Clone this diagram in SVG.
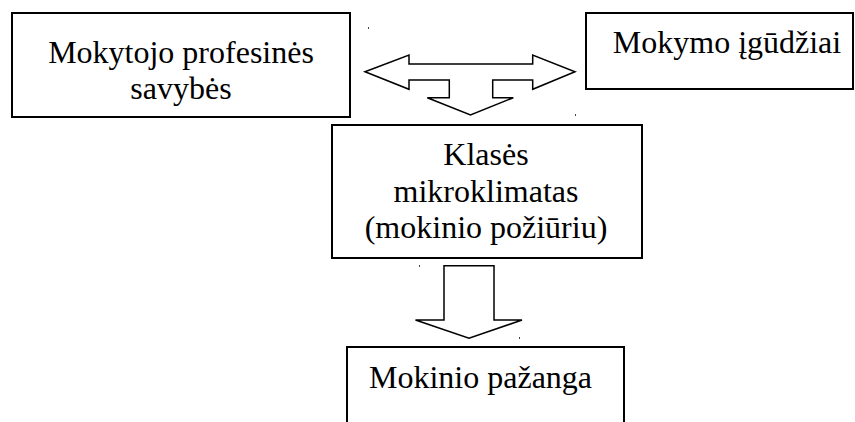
<svg xmlns="http://www.w3.org/2000/svg" width="855" height="422" viewBox="0 0 855 422">
<style>
.box{fill:#fff;stroke:#000;stroke-width:2}
.arr{fill:#fff;stroke:#000;stroke-width:1.5;stroke-linejoin:miter}
.t{font-size:32px;fill:#000}
.c{text-anchor:middle}
.dot{fill:#444}
</style>
<rect width="855" height="422" fill="#fff"/>
<g id="connectors">
<path class="arr" d="M365,71.7 L409,55 L409,64 L532.7,64 L532.7,55 L575,71.7 L532.7,89.3 L532.7,80 L492.7,80 L492.7,97.7 L513.3,97.7 L470.5,115 L427.3,97.7 L449.3,97.7 L449.3,80 L409,80 L409,89.3 Z"/>
<path class="arr" d="M444,265.7 L494,265.7 L494,320 L522,320 L469,338.3 L415.5,320 L444,320 Z"/>
</g>
<g font-family="Liberation Serif, Tinos, Times New Roman, DejaVu Serif, serif">
<g id="node-profesines">
<rect class="box" x="12" y="13" width="338" height="104"/>
<text class="t c" x="181" y="63">Mokytojo profesinės</text>
<text class="t c" x="181" y="99">savybės</text>
</g>
<g id="node-gudziai">
<rect class="box" x="586" y="13" width="267" height="76"/>
<text class="t c" x="727" y="53">Mokymo įgūdžiai</text>
</g>
<g id="node-mikroklimatas">
<rect class="box" x="332" y="125" width="310" height="133"/>
<text class="t c" x="486" y="165">Klasės</text>
<text class="t c" x="486" y="202">mikroklimatas</text>
<text class="t c" x="486" y="238">(mokinio požiūriu)</text>
</g>
<g id="node-pazanga">
<rect class="box" x="347" y="347" width="277" height="90"/>
<text class="t" x="369" y="388">Mokinio pažanga</text>
</g>
</g>
<g id="marks">
<rect class="dot" x="368" y="27" width="1" height="2"/>
<rect class="dot" x="575" y="114" width="1" height="2"/>
<rect class="dot" x="419" y="265" width="1" height="2"/>
<rect class="dot" x="519" y="337" width="1" height="2"/>
</g>
</svg>
